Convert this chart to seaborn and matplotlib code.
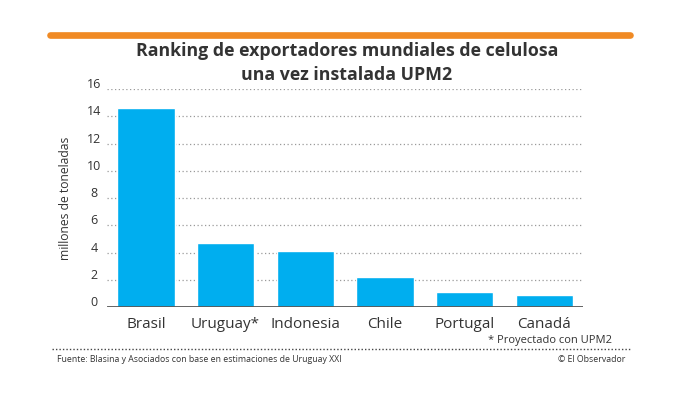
import matplotlib
matplotlib.use("Agg")
import matplotlib.pyplot as plt
import matplotlib.transforms as mtransforms
from matplotlib.lines import Line2D
import seaborn as sns
import pandas as pd

# Data
countries = ["Brasil", "Uruguay*", "Indonesia", "Chile", "Portugal", "Canadá"]
exports = [14.6, 4.7, 4.1, 2.2, 1.1, 0.9]
y_ticks = [0, 2, 4, 6, 8, 10, 12, 14, 16]

df = pd.DataFrame({"pais": countries, "millones": exports})

sns.set_style("white")
plt.rcParams["font.family"] = ["Open Sans", "DejaVu Sans"]

fig = plt.figure(figsize=(6.8, 3.97), dpi=100)
ax = fig.add_axes([0.157, 0.226, 0.700, 0.550])

BLUE = "#00AEEF"
DARK = "#333333"

sns.barplot(data=df, x="pais", y="millones", color=BLUE, width=0.72,
            saturation=1, ax=ax, zorder=3)

ax.set_ylim(0, 16)
ax.set_xlim(-0.49, 5.48)
ax.set_yticks(y_ticks)
for t in y_ticks[1:]:
    ax.axhline(t, color="#9a9a9a", lw=0.9, ls=(0, (1, 2)), zorder=1)
ax.axhline(0, color="#555555", lw=2, zorder=4)

for s in ax.spines.values():
    s.set_visible(False)
ax.tick_params(axis="both", length=0)
ax.tick_params(axis="y", pad=9, labelsize=9, labelcolor=DARK)
ax.tick_params(axis="x", pad=7, labelsize=11, labelcolor=DARK)

# lift y tick labels above their gridlines
offset = mtransforms.ScaledTranslation(0, 6 / 100, fig.dpi_scale_trans)
for lab in ax.get_yticklabels():
    lab.set_transform(lab.get_transform() + offset)
    lab.set_horizontalalignment("center")

ax.set_xlabel("")
ax.set_ylabel("millones de toneladas", fontsize=8.7, color=DARK)
ax.yaxis.set_label_coords(-0.074, 0.5)

# orange top rule
fig.add_artist(Line2D([50 / 680, 630 / 680], [1 - 35 / 397, 1 - 35 / 397],
                      color="#F08A24", lw=4.8, solid_capstyle="round",
                      transform=fig.transFigure))

fig.text(0.51, 1 - 51 / 397, "Ranking de exportadores mundiales de celulosa",
         ha="center", va="center", fontsize=12.8, fontweight="bold", color=DARK)
fig.text(0.51, 1 - 75 / 397, "una vez instalada UPM2",
         ha="center", va="center", fontsize=12.8, fontweight="bold", color=DARK)

fig.text(612 / 680, 1 - 340 / 397, "* Proyectado con UPM2",
         ha="right", va="center", fontsize=8, color=DARK)
fig.add_artist(Line2D([52 / 680, 630 / 680], [1 - 349 / 397, 1 - 349 / 397],
                      color="#444444", lw=1, ls=(0, (1, 1.5)),
                      transform=fig.transFigure))
fig.text(57 / 680, 1 - 360 / 397,
         "Fuente: Blasina y Asociados con base en estimaciones de Uruguay XXI",
         ha="left", va="center", fontsize=6.3, color=DARK)
fig.text(625 / 680, 1 - 360 / 397, "© El Observador",
         ha="right", va="center", fontsize=6.3, color=DARK)

fig.savefig("out.png", dpi=100)
